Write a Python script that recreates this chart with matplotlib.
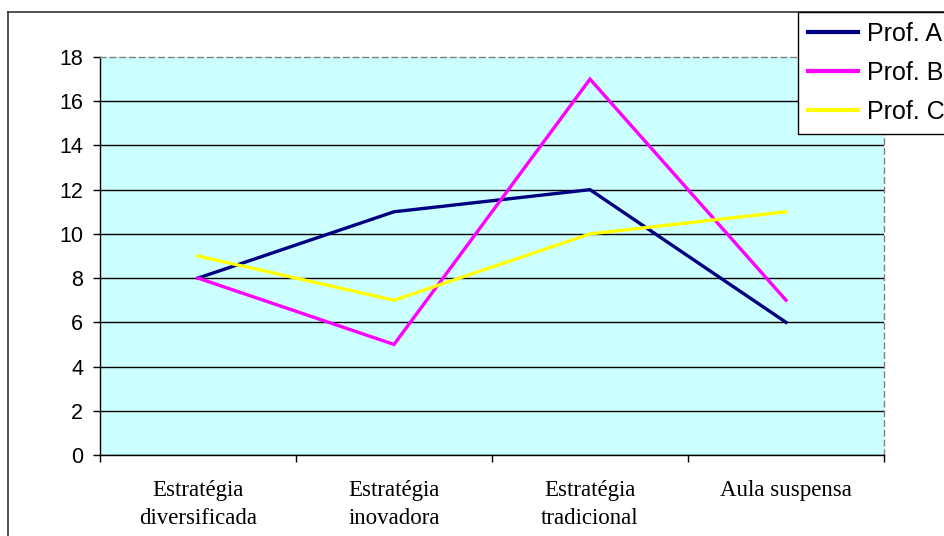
import matplotlib.pyplot as plt
from matplotlib.lines import Line2D
from matplotlib.ticker import FixedLocator, NullFormatter

# estrategias observadas por professor
CATEGORIAS = ['Estratégia\ndiversificada', 'Estratégia\ninovadora',
              'Estratégia\ntradicional', 'Aula suspensa']
PROF_A = [8, 11, 12, 6]
PROF_B = [8, 5, 17, 7]
PROF_C = [9, 7, 10, 11]
SERIES = ['Prof. A', 'Prof. B', 'Prof. C']

CORES = ['#000080', '#FF00FF', '#FFFF00']
FUNDO = '#CCFFFF'
W, H = 944, 536

fig = plt.figure(figsize=(W / 100, H / 100), dpi=100)
ax = fig.add_axes([100 / W, 81 / H, 784 / W, 398 / H])
ax.set_facecolor(FUNDO)

x = list(range(len(CATEGORIAS)))
for dados, cor, nome in zip([PROF_A, PROF_B, PROF_C], CORES, SERIES):
    ax.plot(x, dados, color=cor, lw=2.4, label=nome, solid_joinstyle='miter')

ax.set_xlim(-0.5, len(CATEGORIAS) - 0.5)
ax.set_ylim(0, 18)
ax.set_yticks(range(0, 19, 2))
ax.tick_params(axis='y', direction='out', length=5, width=1, pad=7,
               labelsize=15.5)
for t in ax.get_yticklabels():
    t.set_fontfamily('Liberation Sans')

# divisoes entre categorias (marcas) e rotulos no centro
ax.xaxis.set_major_locator(FixedLocator([i - 0.5 for i in range(len(CATEGORIAS) + 1)]))
ax.xaxis.set_major_formatter(NullFormatter())
ax.xaxis.set_minor_locator(FixedLocator(x))
ax.set_xticklabels(CATEGORIAS, minor=True, fontfamily='Liberation Serif',
                   fontsize=16.5, linespacing=1.45)
ax.tick_params(axis='x', which='major', direction='out', length=5, width=1)
ax.tick_params(axis='x', which='minor', length=0, pad=18)

ax.yaxis.grid(True, color='black', lw=1)
ax.get_ygridlines()[-1].set_visible(False)
ax.set_axisbelow(True)

for lado in ['left', 'bottom']:
    ax.spines[lado].set_color('black')
    ax.spines[lado].set_linewidth(1)
for lado in ['top', 'right']:
    ax.spines[lado].set_color('#808080')
    ax.spines[lado].set_linestyle((0, (4, 3)))
    ax.spines[lado].set_linewidth(1)

# moldura externa do grafico
fig.add_artist(Line2D([8 / W, 8 / W], [0, 1 - 12 / H], color='#333333', lw=1.2))
fig.add_artist(Line2D([8 / W, 1], [1 - 12 / H, 1 - 12 / H], color='#333333', lw=1.2))

leg = fig.legend(loc='upper left', bbox_to_anchor=(798 / W, 1 - 12 / H),
                 borderaxespad=0, fancybox=False, frameon=True,
                 edgecolor='black', framealpha=1, handlelength=2.0,
                 handletextpad=0.35, labelspacing=0.6, borderpad=0.4,
                 prop={'family': 'Liberation Sans', 'size': 18})
leg.get_frame().set_linewidth(1)
for linha in leg.get_lines():
    linha.set_linewidth(3)

fig.savefig('out.png', dpi=100)
